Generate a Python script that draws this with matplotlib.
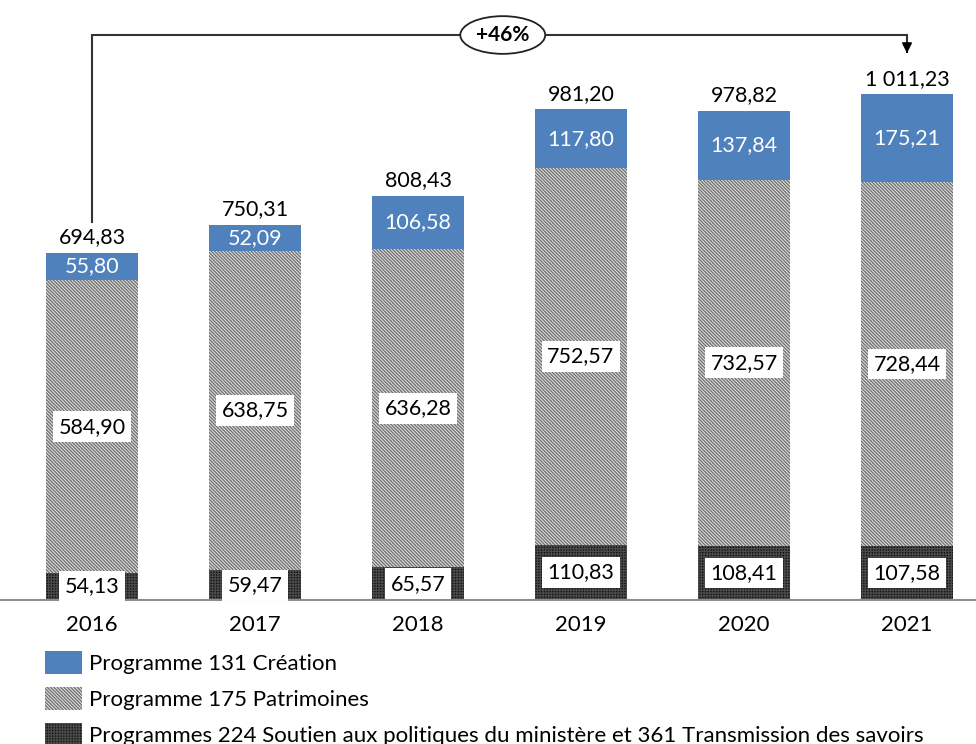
import matplotlib
matplotlib.use("Agg")
import matplotlib.pyplot as plt
import numpy as np

plt.rcParams['font.family'] = ['Lato', 'DejaVu Sans']

# data
years = ['2016', '2017', '2018', '2019', '2020', '2021']
creation = [55.80, 52.09, 106.58, 117.80, 137.84, 175.21]
patrimoines = [584.90, 638.75, 636.28, 752.57, 732.57, 728.44]
soutien = [54.13, 59.47, 65.57, 110.83, 108.41, 107.58]
labels = ['Programme 131 Création',
          'Programme 175 Patrimoines',
          'Programmes 224 Soutien aux politiques du ministère et 361 Transmission des savoirs']
growth = '+46%'


def fr(v):
    s = f"{v:,.2f}"
    return s.replace(',', ' ').replace('.', ',')


x = np.arange(len(years))
creation = np.array(creation)
patrimoines = np.array(patrimoines)
soutien = np.array(soutien)
totals = creation + patrimoines + soutien

fig = plt.figure(figsize=(9.76, 7.44), dpi=100)
ax = fig.add_axes([0, (744 - 600) / 744, 1, 600 / 744])

w = 0.56
plt.rcParams['hatch.linewidth'] = 0.9
b1 = ax.bar(x, soutien, w, color='#141414', edgecolor='#4a4a4a', hatch='++++++', lw=0)
b2 = ax.bar(x, patrimoines, w, bottom=soutien, color='#dcdcdc', edgecolor='#707070',
            hatch='\\' * 10, lw=0)
b3 = ax.bar(x, creation, w, bottom=soutien + patrimoines, color='#4f81bd', lw=0)

fs = 15.5
box = dict(boxstyle='square,pad=0.25', fc='white', ec='none')
for i in range(len(years)):
    ax.text(x[i], soutien[i] / 2, fr(soutien[i]), ha='center', va='center', fontsize=fs, bbox=box)
    ax.text(x[i], soutien[i] + patrimoines[i] / 2, fr(patrimoines[i]), ha='center', va='center',
            fontsize=fs, bbox=box)
    ax.text(x[i], soutien[i] + patrimoines[i] + creation[i] / 2, fr(creation[i]), ha='center',
            va='center', fontsize=fs, color='white')
    ax.text(x[i], totals[i] + 31, fr(totals[i]), ha='center', va='center', fontsize=fs)

# bracket with growth
ytop = 1130
ax.plot([x[0], x[0], x[-1], x[-1]], [totals[0] + 62, ytop, ytop, 1098], color='#333333', lw=1.5,
        solid_joinstyle='miter')
ax.annotate('', xy=(x[-1], 1088), xytext=(x[-1], 1102),
            arrowprops=dict(arrowstyle='-|>,head_width=0.3,head_length=0.6', color='black', lw=1.2))
ax.text((x[0] + x[-1]) / 2 + 0.02, ytop, growth, ha='center', va='center', fontsize=15,
        fontweight='bold', bbox=dict(boxstyle='ellipse,pad=0.16', fc='white', ec='#222222', lw=1.3))

ax.set_xlim(-92 / 163, 884 / 163)
ax.set_ylim(0, 1200)
ax.set_xticks(x)
ax.set_xticklabels(years, fontsize=16)
ax.tick_params(axis='x', length=0, pad=11)
ax.set_yticks([])
for s in ['top', 'right', 'left']:
    ax.spines[s].set_visible(False)
ax.spines['bottom'].set_color('#8c8c8c')
ax.spines['bottom'].set_linewidth(1.5)

fig.legend([b3, b2, b1], labels, loc='upper left', bbox_to_anchor=(45 / 976, 1 - 651 / 744),
           frameon=False, fontsize=16, handlelength=1.65, handleheight=1.2, labelspacing=0.6,
           handletextpad=0.35, borderaxespad=0, borderpad=0)

fig.savefig('out.png', dpi=100)
